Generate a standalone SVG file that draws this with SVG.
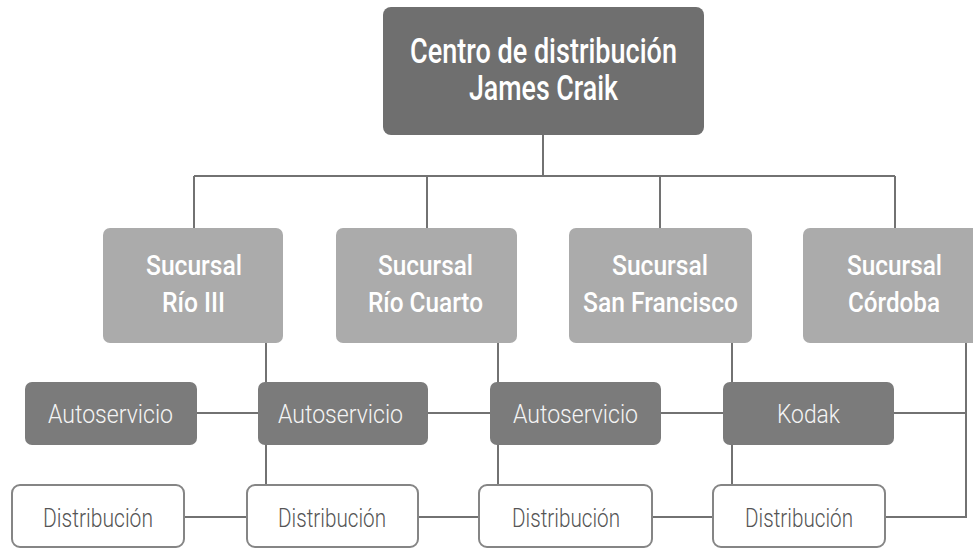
<svg xmlns="http://www.w3.org/2000/svg" width="973" height="548" viewBox="0 0 973 548">
<style>
.ln{fill:none;stroke:#727272;stroke-width:2}
.top{fill:#6f6f6f}
.suc{fill:#ababab}
.aut{fill:#7b7b7b}
.dis{fill:#ffffff;stroke:#858585;stroke-width:2}
text{font-family:Roboto,"Liberation Sans",sans-serif;text-anchor:middle}
.t1{font-size:35px;fill:#ffffff;font-weight:500}
.t2{font-size:27px;fill:#ffffff;font-weight:500}
.t3{font-size:26px;fill:#f4f4f4;font-weight:300}
.t4{font-size:26px;fill:#555555;font-weight:300}
</style>
<rect width="973" height="548" fill="#ffffff"/>
<g id="connectors">
<path class="ln" d="M543 135V176M194 176H895M194 176V228M427 176V228M660 176V228M895 176V228"/>
<path class="ln" d="M266 343V485M498 343V485M732 343V485M966 343V517H885"/>
<path class="ln" d="M197 413H258M428 413H490M661 413H723M894 413H966"/>
<path class="ln" d="M184 517H247M418 517H479M652 517H713"/>
</g>
<g id="centro">
<rect class="top" x="383" y="7" width="321" height="128" rx="8"/>
<text class="t1" x="543.5" y="63" textLength="267" lengthAdjust="spacingAndGlyphs">Centro de distribución</text>
<text class="t1" x="543.5" y="100" textLength="149" lengthAdjust="spacingAndGlyphs">James Craik</text>
</g>
<g id="suc-rio3">
<rect class="suc" x="103" y="228" width="180" height="115" rx="7"/>
<text class="t2" x="194" y="275" textLength="96" lengthAdjust="spacingAndGlyphs">Sucursal</text>
<text class="t2" x="193.5" y="312" textLength="63" lengthAdjust="spacingAndGlyphs">Río III</text>
</g>
<g id="suc-riocuarto">
<rect class="suc" x="336" y="228" width="181" height="115" rx="7"/>
<text class="t2" x="425.5" y="275" textLength="95" lengthAdjust="spacingAndGlyphs">Sucursal</text>
<text class="t2" x="425.5" y="312" textLength="115" lengthAdjust="spacingAndGlyphs">Río Cuarto</text>
</g>
<g id="suc-sanfrancisco">
<rect class="suc" x="569" y="228" width="183" height="115" rx="7"/>
<text class="t2" x="660" y="275" textLength="96" lengthAdjust="spacingAndGlyphs">Sucursal</text>
<text class="t2" x="660.5" y="312" textLength="155" lengthAdjust="spacingAndGlyphs">San Francisco</text>
</g>
<g id="suc-cordoba">
<rect class="suc" x="803" y="228" width="180" height="115" rx="7"/>
<text class="t2" x="894.5" y="275" textLength="95" lengthAdjust="spacingAndGlyphs">Sucursal</text>
<text class="t2" x="894" y="312" textLength="92" lengthAdjust="spacingAndGlyphs">Córdoba</text>
</g>
<g id="auto1">
<rect class="aut" x="25" y="382" width="172" height="63" rx="7"/>
<text class="t3" x="110.5" y="423" textLength="125" lengthAdjust="spacingAndGlyphs">Autoservicio</text>
</g>
<g id="auto2">
<rect class="aut" x="258" y="382" width="170" height="63" rx="7"/>
<text class="t3" x="340.5" y="423" textLength="125" lengthAdjust="spacingAndGlyphs">Autoservicio</text>
</g>
<g id="auto3">
<rect class="aut" x="490" y="382" width="171" height="63" rx="7"/>
<text class="t3" x="575.5" y="423" textLength="125" lengthAdjust="spacingAndGlyphs">Autoservicio</text>
</g>
<g id="kodak">
<rect class="aut" x="723" y="382" width="171" height="63" rx="7"/>
<text class="t3" x="808.5" y="423" textLength="63" lengthAdjust="spacingAndGlyphs">Kodak</text>
</g>
<g id="dist1">
<rect class="dis" x="12" y="485" width="172" height="62" rx="8"/>
<text class="t4" x="98" y="527" textLength="110" lengthAdjust="spacingAndGlyphs">Distribución</text>
</g>
<g id="dist2">
<rect class="dis" x="247" y="485" width="171" height="62" rx="8"/>
<text class="t4" x="332" y="527" textLength="108" lengthAdjust="spacingAndGlyphs">Distribución</text>
</g>
<g id="dist3">
<rect class="dis" x="479" y="485" width="173" height="62" rx="8"/>
<text class="t4" x="566" y="527" textLength="108" lengthAdjust="spacingAndGlyphs">Distribución</text>
</g>
<g id="dist4">
<rect class="dis" x="713" y="485" width="172" height="62" rx="8"/>
<text class="t4" x="799" y="527" textLength="108" lengthAdjust="spacingAndGlyphs">Distribución</text>
</g>
</svg>
